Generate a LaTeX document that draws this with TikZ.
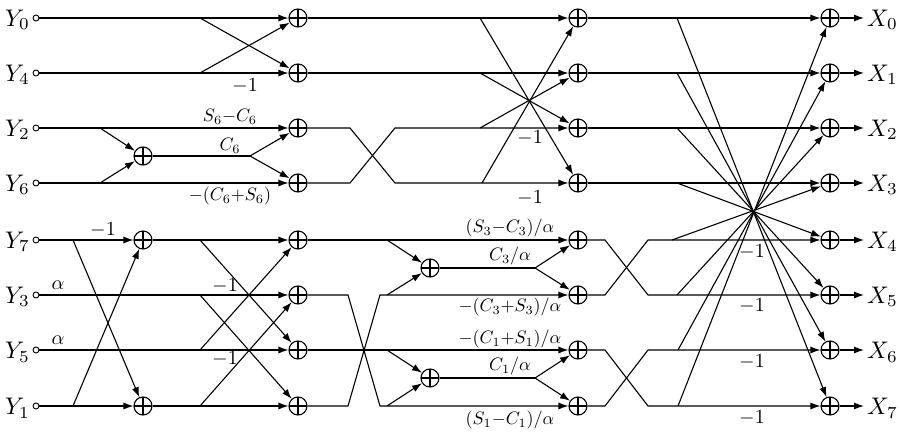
\documentclass[tikz,border=0pt]{standalone}
\usetikzlibrary{arrows.meta}
\newcommand\mylab[2]{\scalebox{#1}{$#2$}}
\begin{document}
\begin{tikzpicture}[x=1pt,y=-1pt,
  add/.style={circle,draw,line width=1.1pt,minimum size=18pt,inner sep=0pt,path picture={\draw[line width=1.1pt] (path picture bounding box.north) -- (path picture bounding box.south) (path picture bounding box.west) -- (path picture bounding box.east);}},
  inp/.style={circle,draw,line width=0.9pt,minimum size=6pt,inner sep=0pt},
  w/.style={line width=1.1pt},
  a/.style={w,-{Latex[length=10pt,width=7pt]}},
  lab/.style={inner sep=1pt},
  big/.style={inner sep=1pt}]
\useasboundingbox (0,0) rectangle (900,433);
% inputs
\foreach \n/\y/\t in {0/18/0,1/73/4,2/128/2,3/183/6,4/240/7,5/295/3,6/350/5,7/406/1}{
  \node[inp] (in\n) at (36,\y) {};
  \node[big,anchor=east] at (31,\y+2) {\mylab{2.4}{Y_{\t}}};
}
% adders
\node[add] (A26) at (143,156) {};
\node[add] (A7) at (143,240) {};
\node[add] (A1) at (143,406) {};
\foreach \n/\y in {0/18,1/73,2/128,3/183,4/240,5/295,6/350,7/406}{
  \node[add] (B\n) at (298,\y) {};
  \node[add] (D\n) at (578,\y) {};
  \node[add] (E\n) at (830,\y) {};
  \coordinate (O\n) at (864,\y);
  \node[big,anchor=west] at (866,\y+2) {\mylab{2.4}{X_{\n}}};
  \draw[a] (E\n) -- (O\n);
}
\node[add] (C3) at (430,268) {};
\node[add] (C1) at (430,378) {};
% stage 1
\draw[a] (in0) -- (B0); \draw[a] (200,18) -- (B1);
\draw[a] (in1) -- (B1); \draw[a] (200,73) -- (B0);
\draw[a] (in2) -- (B2); \draw[a] (100,128) -- (A26);
\draw[a] (in3) -- (B3); \draw[a] (100,183) -- (A26);
\draw[w] (A26) -- (250,156); \draw[a] (250,156) -- (B2); \draw[a] (250,156) -- (B3);
\draw[a] (in4) -- (A7); \draw[a] (73,240) -- (A1);
\draw[a] (in7) -- (A1); \draw[a] (73,406) -- (A7);
\draw[a] (A7) -- (B4); \draw[a] (200,240) -- (B6);
\draw[a] (in5) -- (B5); \draw[a] (200,295) -- (B7);
\draw[a] (in6) -- (B6); \draw[a] (200,350) -- (B4);
\draw[a] (A1) -- (B7); \draw[a] (200,406) -- (B5);
% stage 2
\draw[a] (B0) -- (D0); \draw[a] (480,18) -- (D3);
\draw[a] (B1) -- (D1); \draw[a] (480,73) -- (D2);
\draw[a] (B2) -- (350,128) -- (395,183) -- (D3); \draw[a] (482,183) -- (D0);
\draw[a] (B3) -- (350,183) -- (395,128) -- (D2); \draw[a] (480,128) -- (D1);
\draw[a] (B4) -- (D4); \draw[a] (387,240) -- (C3);
\draw[a] (B5) -- (348,295) -- (380,406) -- (D7); \draw[a] (387,406) -- (C1);
\draw[a] (B6) -- (D6); \draw[a] (387,350) -- (C1);
\draw[a] (B7) -- (348,406) -- (380,295) -- (D5); \draw[a] (387,295) -- (C3);
\draw[w] (C3) -- (535,268); \draw[a] (535,268) -- (D4); \draw[a] (535,268) -- (D5);
\draw[w] (C1) -- (535,378); \draw[a] (535,378) -- (D6); \draw[a] (535,378) -- (D7);
% stage 3
\draw[a] (D0) -- (E0); \draw[a] (D1) -- (E1); \draw[a] (D2) -- (E2); \draw[a] (D3) -- (E3);
\draw[a] (D4) -- (605,240) -- (648,295) -- (E5);
\draw[a] (D5) -- (605,295) -- (648,240) -- (E4);
\draw[a] (D6) -- (605,350) -- (648,406) -- (E7);
\draw[a] (D7) -- (605,406) -- (648,350) -- (E6);
\draw[a] (677,18) -- (E7); \draw[a] (677,73) -- (E6);
\draw[a] (677,128) -- (E5); \draw[a] (677,183) -- (E4);
\draw[a] (672,240) -- (E3); \draw[a] (677,295) -- (E2);
\draw[a] (678,350) -- (E1); \draw[a] (678,406) -- (E0);
% labels
\foreach \x/\y in {245/86,103/230,225/286,225/359,530/138,530/198,752/252,752/306,752/362,752/418}
  \node[lab] at (\x,\y) {\mylab{2}{-1}};
\node[lab] at (58,285) {\mylab{2}{\alpha}};
\node[lab] at (58,340) {\mylab{2}{\alpha}};
\node[lab] at (230,117) {\mylab{1.8}{S_6{-}C_6}};
\node[lab] at (230,146) {\mylab{1.8}{C_6}};
\node[lab] at (230,196) {\mylab{1.8}{-(C_6{+}S_6)}};
\node[lab] at (510,228) {\mylab{1.8}{(S_3{-}C_3)/\alpha}};
\node[lab] at (510,256) {\mylab{1.8}{C_3/\alpha}};
\node[lab] at (510,307) {\mylab{1.8}{-(C_3{+}S_3)/\alpha}};
\node[lab] at (510,339) {\mylab{1.8}{-(C_1{+}S_1)/\alpha}};
\node[lab] at (510,366) {\mylab{1.8}{C_1/\alpha}};
\node[lab] at (510,420) {\mylab{1.8}{(S_1{-}C_1)/\alpha}};
\end{tikzpicture}
\end{document}
